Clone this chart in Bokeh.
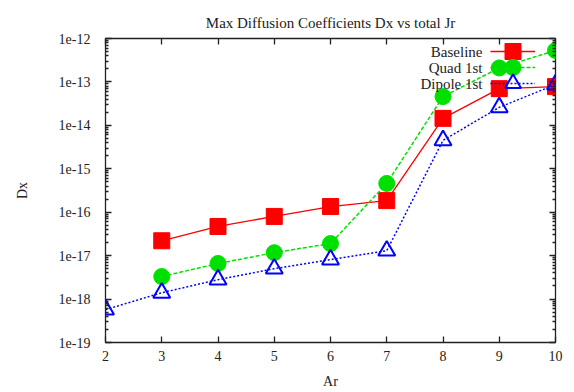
import numpy as np
from bokeh.plotting import figure
from bokeh.models import (FixedTicker, LogAxis, LinearAxis, Legend, LegendItem,
                          Label, Range1d, CustomJSTickFormatter)
from bokeh.core.properties import value
from bokeh.embed import file_html
from bokeh.resources import INLINE

# ---- data ----
x_base = [3, 4, 5, 6, 7, 8, 9, 10]
baseline = [2.2e-17, 4.7e-17, 8.0e-17, 1.35e-16, 1.85e-16, 1.45e-14, 7.0e-14, 7.8e-14]

x_quad = [3, 4, 5, 6, 7, 8, 9, 10]
quad = [3.3e-18, 6.6e-18, 1.17e-17, 1.9e-17, 4.6e-16, 4.6e-14, 2.1e-13, 5.3e-13]

x_dip = [2, 3, 4, 5, 6, 7, 8, 9, 10]
dipole = [5.7e-19, 1.4e-18, 2.8e-18, 5.0e-18, 8.1e-18, 1.3e-17, 4.5e-15, 2.6e-14, 8.7e-14]

series_names = ["Baseline", "Quad 1st", "Dipole 1st"]
x_ticks = [2, 3, 4, 5, 6, 7, 8, 9, 10]
y_exponents = [-19, -18, -17, -16, -15, -14, -13, -12]

y_major = [10.0 ** e for e in y_exponents]
y_minor = [k * 10.0 ** e for e in y_exponents[:-1] for k in range(2, 10)]

FONT = "Liberation Serif"
FS = "14px"

p = figure(width=568, height=391, y_axis_type="log",
           x_range=Range1d(2, 10), y_range=Range1d(1e-19, 1e-12),
           output_backend="svg", toolbar_location=None,
           min_border_left=105, min_border_right=13, min_border_top=38,
           min_border_bottom=10,
           title="Max Diffusion Coefficients Dx vs total Jr")

p.title.align = "center"
p.title.vertical_align = "top"
p.title.text_font = FONT
p.title.text_font_size = "15px"
p.title.text_font_style = "normal"
p.title.text_color = "#222222"
p.title.offset = 0
p.title.standoff = 12
p.title.text_line_height = 1.0

p.grid.visible = False
p.background_fill_color = "white"
p.outline_line_color = "#222222"
p.outline_line_width = 1.3

fmt = CustomJSTickFormatter(code="return '1e' + Math.round(Math.log10(tick));")
blank = CustomJSTickFormatter(code="return '';")

def style_axis(ax):
    ax.major_tick_in = 6
    ax.major_tick_out = 0
    ax.minor_tick_in = 3
    ax.minor_tick_out = 0
    ax.major_tick_line_color = "#222222"
    ax.minor_tick_line_color = "#222222"
    ax.major_tick_line_width = 1.3
    ax.minor_tick_line_width = 1.3
    ax.axis_line_color = None
    ax.major_label_text_font = FONT
    ax.major_label_text_font_size = FS
    ax.major_label_text_color = "#222222"
    ax.axis_label_text_font = FONT
    ax.axis_label_text_font_size = FS
    ax.axis_label_text_font_style = "normal"
    ax.axis_label_text_color = "#222222"

xt = FixedTicker(ticks=x_ticks, minor_ticks=[])
yt = FixedTicker(ticks=y_major, minor_ticks=y_minor)

xa = p.xaxis[0]
xa.ticker = xt
style_axis(xa)
xa.axis_label = "Ar"
xa.major_label_standoff = 8
xa.axis_label_standoff = 10

ya = p.yaxis[0]
ya.ticker = yt
ya.formatter = fmt
style_axis(ya)
ya.axis_label = "Dx"
ya.major_label_standoff = 15
ya.axis_label_standoff = 26

top = LinearAxis(ticker=xt, formatter=blank)
style_axis(top)
top.major_label_text_font_size = "1px"
top.major_label_standoff = 0
p.add_layout(top, "above")

right = LogAxis(ticker=yt, formatter=blank)
style_axis(right)
right.major_label_text_font_size = "1px"
right.major_label_standoff = 0
p.add_layout(right, "right")

# ---- series ----
r_bl = p.line(x_base, baseline, line_color="#ff0000", line_width=1.3)
r_bs = p.scatter(x_base, baseline, marker="square", size=16,
                 fill_color="#ff0000", line_color="#ff0000")

r_ql = p.line(x_quad, quad, line_color="#00e000", line_width=1.5, line_dash="4 2")
r_qs = p.scatter(x_quad, quad, marker="circle", size=16,
                 fill_color="#00e000", line_color="#00e000")

r_dl = p.line(x_dip, dipole, line_color="#0000ff", line_width=1.5, line_dash="2 2")
r_ds = p.scatter(x_dip, dipole, marker="triangle", size=17,
                 fill_color=None, line_color="#0000ff", line_width=2)

# gnuplot-style key: text right-aligned, sample to its right
# (legend location = bottom-left corner, px from frame's bottom-left)
renderer_groups = [[r_bl, r_bs], [r_ql, r_qs], [r_dl, r_ds]]
for i, (name, rs) in enumerate(zip(series_names, renderer_groups)):
    lg = Legend(items=[LegendItem(label=value(" "), renderers=rs)],
                location=(385, 271 - 16 * i), glyph_width=45, glyph_height=40,
                padding=0, margin=0, spacing=0, border_line_color=None,
                background_fill_alpha=0, label_text_font_size="2px",
                label_standoff=0)
    p.add_layout(lg, "center")
    p.add_layout(Label(x=377, y=291 - 16 * i, x_units="screen", y_units="screen",
                       text=name, text_align="right", text_baseline="middle",
                       text_font=FONT, text_font_size="15px", text_color="#222222"))

open("out.html", "w").write(file_html(p, INLINE))
